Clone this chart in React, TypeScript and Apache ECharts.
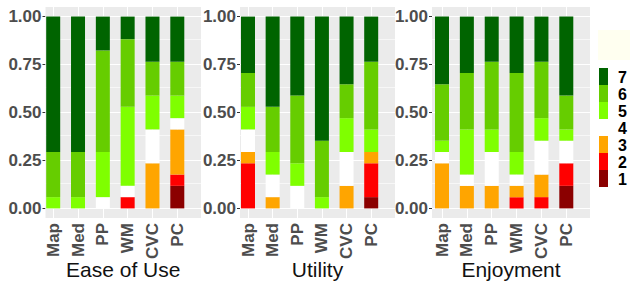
import React, { useEffect, useRef } from 'react';
import * as echarts from 'echarts';

// Categories and panels
const categories = ['Map', 'Med', 'PP', 'WM', 'CVC', 'PC'];
const levels = ['1', '2', '3', '4', '5', '6', '7'];
const legendOrder = ['7', '6', '5', '4', '3', '2', '1'];
const panelTitles = ['Ease of Use', 'Utility', 'Enjoyment'];
const yTicks = [0, 0.25, 0.5, 0.75, 1];
const yMinorTicks = [0.125, 0.375, 0.625, 0.875];
const respondents = 17;

// Counts of responses per level (1..7) for Map, Med, PP, WM, CVC, PC
const ease1 = [0, 0, 0, 0, 0, 2];
const ease2 = [0, 0, 0, 1, 0, 1];
const ease3 = [0, 0, 0, 0, 4, 4];
const ease4 = [0, 0, 1, 1, 3, 1];
const ease5 = [1, 1, 4, 7, 3, 2];
const ease6 = [4, 4, 9, 6, 3, 3];
const ease7 = [12, 12, 3, 2, 4, 4];

const util1 = [0, 0, 0, 0, 0, 1];
const util2 = [4, 0, 0, 0, 0, 3];
const util3 = [1, 1, 0, 0, 2, 1];
const util4 = [2, 2, 2, 0, 3, 0];
const util5 = [2, 2, 2, 1, 3, 2];
const util6 = [3, 4, 6, 5, 3, 6];
const util7 = [5, 8, 7, 11, 6, 4];

const enjoy1 = [0, 0, 0, 0, 0, 2];
const enjoy2 = [0, 0, 0, 1, 1, 2];
const enjoy3 = [4, 2, 2, 1, 2, 0];
const enjoy4 = [1, 1, 3, 1, 3, 2];
const enjoy5 = [1, 4, 2, 2, 2, 1];
const enjoy6 = [5, 5, 6, 7, 5, 3];
const enjoy7 = [6, 5, 4, 5, 4, 7];

const panelCounts = [
  [ease1, ease2, ease3, ease4, ease5, ease6, ease7],
  [util1, util2, util3, util4, util5, util6, util7],
  [enjoy1, enjoy2, enjoy3, enjoy4, enjoy5, enjoy6, enjoy7],
];

const levelColors = ['#8B0000', '#FF0000', '#FFA500', '#FFFFFF', '#7FFF00', '#66CD00', '#006400'];

// layout (panel backgrounds and bar-centre spans)
const panelLefts = [45.5, 240, 432];
const panelWidths = [155.5, 155, 158];
const barLefts = [53.2, 248, 442];
const barSpans = [124.1, 123.2, 124.3];
const PANEL_TOP = 7;
const PANEL_H = 211;
const FONT = '"Liberation Sans", Arial, sans-serif';

export default function App() {
  const ref = useRef<HTMLDivElement>(null);

  useEffect(() => {
    if (!ref.current) return;
    const chart = echarts.init(ref.current, undefined, { renderer: 'svg' });

    const grids: any[] = [];
    const xAxes: any[] = [];
    const yAxes: any[] = [];
    const series: any[] = [];

    panelTitles.forEach((title, p) => {
      const bg = 2 * p;
      const bars = 2 * p + 1;
      // background panel grid
      grids.push({
        left: panelLefts[p],
        top: PANEL_TOP,
        width: panelWidths[p],
        height: PANEL_H,
        show: true,
        backgroundColor: '#EBEBEB',
        borderWidth: 0,
        containLabel: false,
        outerBoundsMode: 'none',
      });
      // bar grid (from first to last bar centre)
      grids.push({
        left: barLefts[p],
        top: PANEL_TOP,
        width: barSpans[p],
        height: PANEL_H,
        show: false,
        containLabel: false,
        outerBoundsMode: 'none',
      });

      xAxes.push({
        type: 'value',
        gridIndex: bg,
        min: 0,
        max: 1,
        axisLine: { show: false },
        axisTick: { show: false },
        axisLabel: { show: false },
        splitLine: { show: false },
        name: title,
        nameLocation: 'middle',
        nameGap: 41,
        nameTextStyle: { fontSize: 21, color: '#111111', fontFamily: FONT },
      });
      xAxes.push({
        type: 'category',
        gridIndex: bars,
        data: categories,
        boundaryGap: false,
        axisLine: { show: false },
        splitLine: { show: false },
        axisTick: { show: true, length: 3, lineStyle: { color: '#333333', width: 1 } },
        axisLabel: {
          interval: 0,
          rotate: 90,
          margin: 5,
          fontSize: 17,
          fontWeight: 'bold',
          color: '#4D4D4D',
          fontFamily: FONT,
        },
      });

      yAxes.push({
        type: 'value',
        gridIndex: bg,
        min: -0.05,
        max: 1.05,
        axisLine: { show: false },
        splitLine: { show: false },
        axisTick: { show: true, customValues: yTicks, length: 3, lineStyle: { color: '#333333', width: 1 } },
        axisLabel: {
          customValues: yTicks,
          margin: 4,
          formatter: (v: number) => v.toFixed(2),
          fontSize: 17,
          fontWeight: 'bold',
          color: '#4D4D4D',
          fontFamily: FONT,
        },
      });
      yAxes.push({
        type: 'value',
        gridIndex: bars,
        min: -0.05,
        max: 1.05,
        show: false,
        splitLine: { show: false },
      });

      // horizontal grid lines on the panel
      series.push({
        type: 'scatter',
        name: 'hgrid' + p,
        xAxisIndex: bg,
        yAxisIndex: bg,
        data: [],
        silent: true,
        markLine: {
          silent: true,
          symbol: 'none',
          z: 1,
          animation: false,
          label: { show: false },
          lineStyle: { color: '#FFFFFF', type: 'solid', width: 1.1 },
          emphasis: { disabled: true },
          data: [
            ...yTicks.map((v) => ({ yAxis: v })),
            ...yMinorTicks.map((v) => ({ yAxis: v, lineStyle: { color: '#FFFFFF', type: 'solid', width: 0.6 } })),
          ],
        },
      });
      // vertical grid lines at category centres
      series.push({
        type: 'scatter',
        name: 'vgrid' + p,
        xAxisIndex: bars,
        yAxisIndex: bars,
        data: [],
        silent: true,
        markLine: {
          silent: true,
          symbol: 'none',
          z: 1,
          animation: false,
          label: { show: false },
          lineStyle: { color: '#FFFFFF', type: 'solid', width: 1.1 },
          emphasis: { disabled: true },
          data: categories.map((c) => ({ xAxis: c })),
        },
      });

      levels.forEach((lvl, l) => {
        series.push({
          type: 'bar',
          name: lvl,
          xAxisIndex: bars,
          yAxisIndex: bars,
          stack: 'panel' + p,
          barWidth: 14,
          clip: false,
          z: 3,
          itemStyle: { color: levelColors[l] },
          data: panelCounts[p][l].map((c) => c / respondents),
        });
      });
    });

    // legend keys (drawn as graphics so the keys touch each other)
    const legendGraphics: any[] = [];
    legendOrder.forEach((lvl, k) => {
      const color = levelColors[levels.indexOf(lvl)];
      legendGraphics.push({
        type: 'rect',
        left: 599,
        top: 68 + 17 * k,
        shape: { width: 9, height: 17 },
        style: { fill: color },
        silent: true,
      });
      legendGraphics.push({
        type: 'text',
        x: 618,
        y: 68 + 17 * k + 9,
        style: {
          text: lvl,
          fill: '#000000',
          font: `bold 16px ${FONT}`,
          verticalAlign: 'middle',
          align: 'left',
        },
        silent: true,
      });
    });

    chart.setOption({
      animation: false,
      grid: grids,
      xAxis: xAxes,
      yAxis: yAxes,
      graphic: [
        {
          type: 'rect',
          left: 598,
          top: 30,
          shape: { width: 32, height: 30 },
          style: { fill: '#FFFFF0' },
          silent: true,
        },
        ...legendGraphics,
      ],
      series,
    });

    return () => chart.dispose();
  }, []);

  return (
    <div
      ref={ref}
      style={{ position: 'absolute', left: 0, top: 0, width: 630, height: 283 }}
    />
  );
}
